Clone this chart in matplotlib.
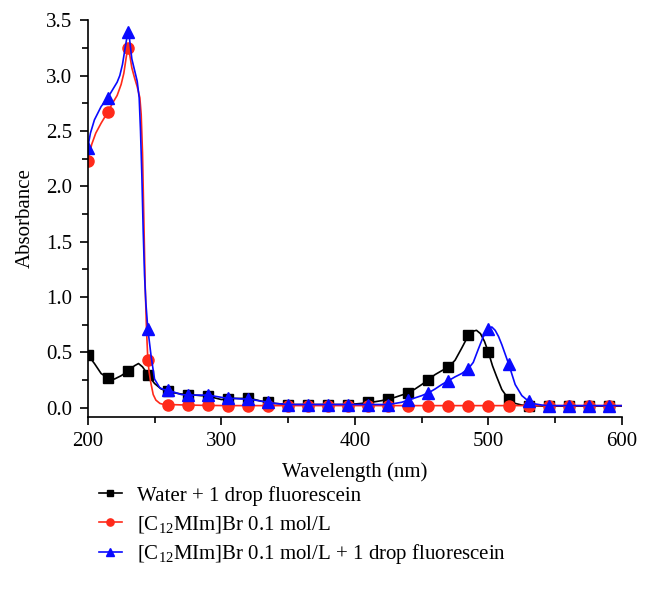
import numpy as np
import matplotlib
matplotlib.use("Agg")
import matplotlib.pyplot as plt
from matplotlib.ticker import MultipleLocator

plt.rcParams['font.family'] = ['Liberation Serif', 'DejaVu Serif']
plt.rcParams['mathtext.fontset'] = 'custom'
plt.rcParams['mathtext.rm'] = 'Liberation Serif'
plt.rcParams['mathtext.it'] = 'Liberation Serif:italic'

# Water + 1 drop fluorescein
wl_black = [200, 205, 210, 215, 220, 225, 230, 235, 238, 241, 245, 250, 255, 260, 265, 270, 275,
            280, 285, 290, 295, 300, 305, 310, 315, 320, 325, 330, 335, 340, 345, 350, 355, 360,
            365, 370, 375, 380, 385, 390, 395, 400, 405, 410, 415, 420, 425, 430, 435, 440, 445,
            450, 455, 460, 465, 470, 475, 480, 485, 488, 491, 494, 497, 500, 503, 506, 510, 515,
            520, 525, 530, 535, 540, 545, 550, 555, 560, 565, 570, 575, 580, 585, 590, 595, 600]
a_black = [0.48, 0.40, 0.31, 0.27, 0.26, 0.29, 0.33, 0.38, 0.40, 0.37, 0.30, 0.22, 0.17, 0.15, 0.135,
           0.125, 0.12, 0.115, 0.11, 0.11, 0.09, 0.075, 0.08, 0.085, 0.085, 0.085, 0.075, 0.06, 0.05,
           0.04, 0.035, 0.03, 0.03, 0.03, 0.03, 0.03, 0.03, 0.03, 0.03, 0.03, 0.03, 0.035, 0.04, 0.05,
           0.055, 0.065, 0.08, 0.095, 0.115, 0.135, 0.17, 0.21, 0.255, 0.30, 0.335, 0.366, 0.43, 0.54,
           0.655, 0.69, 0.70, 0.67, 0.60, 0.50, 0.38, 0.285, 0.165, 0.08, 0.04, 0.025, 0.02, 0.018,
           0.016, 0.015, 0.015, 0.015, 0.015, 0.015, 0.015, 0.015, 0.015, 0.015, 0.015, 0.015, 0.015]

# [C12MIm]Br 0.1 mol/L
wl_red = [200, 203, 206, 210, 215, 219, 222, 225, 227, 229, 230, 231, 233, 235, 237, 239, 240, 241,
          242, 243, 244, 245, 246, 247, 249, 251, 254, 257, 260, 275, 290, 305, 320, 335, 350, 365,
          380, 395, 410, 425, 440, 455, 470, 485, 500, 515, 530, 545, 560, 575, 590, 600]
a_red = [2.23, 2.38, 2.48, 2.57, 2.67, 2.76, 2.82, 2.92, 3.02, 3.18, 3.25, 3.22, 3.07, 2.98, 2.90,
         2.80, 2.65, 2.30, 1.70, 1.10, 0.70, 0.43, 0.32, 0.24, 0.12, 0.07, 0.04, 0.03, 0.03, 0.025,
         0.022, 0.02, 0.02, 0.02, 0.02, 0.02, 0.02, 0.02, 0.02, 0.02, 0.02, 0.02, 0.02, 0.02, 0.02,
         0.02, 0.02, 0.02, 0.02, 0.02, 0.02, 0.02]

# [C12MIm]Br 0.1 mol/L + 1 drop fluorescein
wl_blue = [200, 202, 205, 210, 215, 219, 222, 224, 226, 228, 230, 231, 233, 235, 237, 238.5, 239.5,
           240.5, 241.5, 242.5, 243.5, 245, 247.5, 250, 254, 257, 260, 265, 270, 275, 280, 285, 290,
           295, 300, 305, 310, 315, 320, 325, 330, 335, 340, 345, 350, 365, 380, 395, 410, 425, 430,
           435, 440, 445, 450, 455, 460, 465, 470, 475, 480, 485, 488.6, 492.4, 496, 500, 502.5, 505,
           507.5, 510, 515, 520, 525, 530, 535, 540, 545, 560, 575, 590, 600]
a_blue = [2.35, 2.48, 2.60, 2.72, 2.80, 2.88, 2.94, 3.00, 3.10, 3.25, 3.39, 3.36, 3.15, 3.05, 2.95,
          2.80, 2.50, 2.10, 1.60, 1.20, 0.95, 0.71, 0.46, 0.26, 0.18, 0.165, 0.16, 0.14, 0.12, 0.115,
          0.115, 0.115, 0.115, 0.105, 0.095, 0.085, 0.085, 0.08, 0.08, 0.07, 0.06, 0.05, 0.04, 0.035,
          0.03, 0.03, 0.03, 0.03, 0.03, 0.03, 0.04, 0.05, 0.07, 0.09, 0.11, 0.135, 0.17, 0.21, 0.245,
          0.28, 0.31, 0.355, 0.41, 0.53, 0.64, 0.715, 0.73, 0.70, 0.645, 0.57, 0.40, 0.21, 0.11, 0.06,
          0.035, 0.025, 0.02, 0.02, 0.02, 0.02, 0.02]

labels = ["Water + 1 drop fluorescein",
          r"[C$_{\mathrm{12}}$MIm]Br 0.1 mol/L",
          r"[C$_{\mathrm{12}}$MIm]Br 0.1 mol/L + 1 drop fluorescein"]

def marks(wl):
    w = np.asarray(wl, dtype=float)
    return list(np.isclose((w - 200) % 15, 0) & (w <= 590))

fig = plt.figure(figsize=(6.5, 6.11), dpi=100)
ax = fig.add_axes([0.135, 0.318, 0.822, 0.649])

ax.plot(wl_black, a_black, color='black', lw=1.2, marker='s', ms=7, markevery=marks(wl_black),
        label=labels[0])
ax.plot(wl_red, a_red, color='#ff2a1a', lw=1.2, marker='o', ms=8, markevery=marks(wl_red),
        label=labels[1])
ax.plot(wl_blue, a_blue, color='#0a0aff', lw=1.2, marker='^', ms=9, markevery=marks(wl_blue),
        label=labels[2])

ax.set_xlim(200, 600)
ax.set_ylim(-0.08, 3.5)
ax.xaxis.set_major_locator(MultipleLocator(100))
ax.xaxis.set_minor_locator(MultipleLocator(50))
ax.yaxis.set_major_locator(MultipleLocator(0.5))
ax.yaxis.set_minor_locator(MultipleLocator(0.25))
ax.yaxis.set_major_formatter(matplotlib.ticker.FormatStrFormatter('%.1f'))
for s in ['top', 'right']:
    ax.spines[s].set_visible(False)
for s in ['left', 'bottom']:
    ax.spines[s].set_linewidth(1.2)
ax.tick_params(which='major', length=6, width=1.2, labelsize=15, direction='out', pad=5)
ax.tick_params(which='minor', length=4, width=1.2, direction='out')
ax.set_xlabel("Wavelength (nm)", fontsize=15, labelpad=8)
ax.set_ylabel("Absorbance", fontsize=15, labelpad=8)

fig.legend(loc='upper left', bbox_to_anchor=(0.152, 0.205), frameon=False, fontsize=15,
           handlelength=1.1, markerscale=0.65, labelspacing=0.38, handletextpad=0.75,
           borderpad=0, borderaxespad=0)

fig.savefig("out.png", dpi=100)
